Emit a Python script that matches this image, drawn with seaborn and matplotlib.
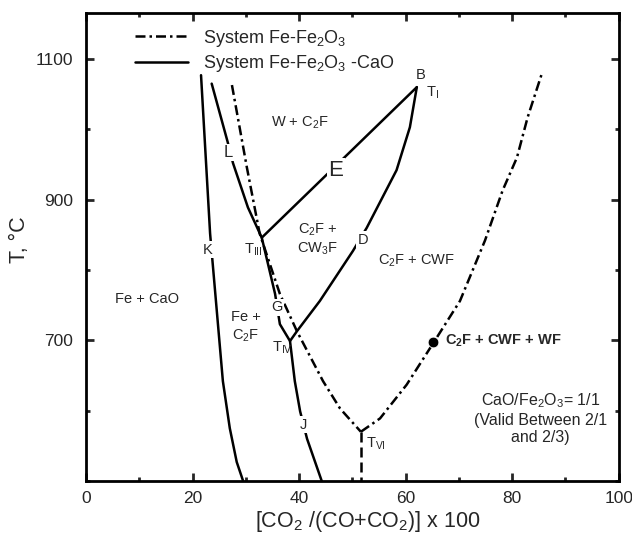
import pandas as pd
import matplotlib.pyplot as plt
import seaborn as sns
from matplotlib.lines import Line2D
from matplotlib.ticker import MultipleLocator

# System Fe-Fe2O3 (dash-dot), left branch down to T_VI, right branch up from T_VI
fe_left_x = [27.4, 30.2, 32.6, 36.4, 39.6, 44.5, 47.7, 51.6]
fe_left_y = [1063, 946, 852, 766, 713, 642, 603, 570]
fe_right_x = [51.6, 55.2, 60.2, 65.1, 70.2, 74.9, 78.2, 80.9, 82.9, 85.6]
fe_right_y = [570, 589, 637, 695, 756, 842, 913, 960, 1017, 1080]
fe_vert_x = [51.6, 51.6]
fe_vert_y = [570, 500]

# System Fe-Fe2O3-CaO (solid)
k_x = [21.6, 23.3, 25.7, 27.0, 28.3, 29.5]
k_y = [1077, 852, 642, 575, 527, 500]
l_x = [23.6, 26.6, 27.6, 30.4, 33.0, 35.5, 36.4, 38.3, 39.2, 40.2, 41.5, 44.3]
l_y = [1065, 982, 952, 889, 846, 766, 723, 699, 642, 599, 560, 499]
e_x = [33.0, 62.1]
e_y = [846, 1060]
d_x = [62.1, 60.8, 58.3, 52.7, 50.1, 43.9, 39.6, 38.3]
d_y = [1060, 1003, 942, 860, 827, 756, 713, 699]

dot_x = [65.1]
dot_y = [697]

x_ticks = [0, 20, 40, 60, 80, 100]
y_ticks = [700, 900, 1100]

sns.set_theme(style="ticks")
plt.rcParams["font.family"] = ["Liberation Sans", "DejaVu Sans"]
plt.rcParams["mathtext.default"] = "regular"

fig = plt.figure(figsize=(6.32, 5.39), dpi=100)
ax = fig.add_axes([0.136, 0.1076, 0.843, 0.8677])

dashdot = (0, (4, 1.6, 1, 1.6))
lw = 1.8


def curve(xs, ys, ls):
    df = pd.DataFrame({"x": xs, "y": ys})
    sns.lineplot(data=df, x="x", y="y", sort=False, estimator=None,
                 color="black", linewidth=lw, linestyle=ls, ax=ax)


curve(fe_left_x, fe_left_y, dashdot)
curve(fe_right_x, fe_right_y, dashdot)
curve(fe_vert_x, fe_vert_y, (0, (4, 2)))
curve(k_x, k_y, "-")
curve(l_x, l_y, "-")
curve(e_x, e_y, "-")
curve(d_x, d_y, "-")

sns.scatterplot(x=dot_x, y=dot_y, color="black", s=60, zorder=5, ax=ax)

ax.set_xlim(0, 100)
ax.set_ylim(500, 1165)
ax.set_xticks(x_ticks)
ax.set_yticks(y_ticks)
ax.xaxis.set_minor_locator(MultipleLocator(10))
ax.yaxis.set_minor_locator(MultipleLocator(100))
ax.tick_params(which="both", direction="in", top=True, right=True,
               labelsize=12.5, width=2, pad=7)
ax.tick_params(axis="y", pad=9)
ax.tick_params(which="major", length=6)
ax.tick_params(which="minor", length=3)
for s in ax.spines.values():
    s.set_linewidth(2)
    s.set_color("black")

ax.set_xlabel(r"[CO$_2$ /(CO+CO$_2$)] x 100", fontsize=15.5, labelpad=2)
ax.set_ylabel("T, °C", fontsize=15.5, labelpad=4)
ax.xaxis.label.set_x(0.53)
ax.yaxis.label.set_y(0.515)

gap = dict(facecolor="white", edgecolor="none", pad=1.0)
fs = 10.5
txt = dict(ha="center", va="center", fontsize=fs, zorder=6)
ax.text(62.8, 1077, "B", **txt)
ax.text(65.0, 1052, r"T$_{I}$", **txt)
ax.text(40.2, 1009, r"W + C$_2$F", **txt)
ax.text(46.9, 942, "E", ha="center", va="center", fontsize=16, zorder=6, bbox=gap)
ax.text(26.7, 967, "L", ha="center", va="center", fontsize=12, zorder=6, bbox=gap)
ax.text(43.5, 844, "C$_2$F +\nCW$_3$F", ha="center", va="center",
        fontsize=fs, linespacing=1.2, zorder=6)
ax.text(52.0, 843, "D", bbox=gap, **txt)
ax.text(31.4, 829, r"T$_{III}$", **txt)
ax.text(22.9, 829, "K", bbox=gap, **txt)
ax.text(62.0, 813, "C$_2$F + CWF", **txt)
ax.text(11.4, 759, "Fe + CaO", **txt)
ax.text(30.0, 719, "Fe +\nC$_2$F", ha="center", va="center",
        fontsize=fs, linespacing=1.3, zorder=6)
ax.text(35.8, 747, "G", bbox=gap, **txt)
ax.text(36.9, 690, r"T$_{IV}$", **txt)
ax.text(67.4, 700, "C$_2$F + CWF + WF", ha="left", va="center",
        fontsize=fs, fontweight="bold", zorder=6)
ax.text(85.3, 589, "CaO/Fe$_2$O$_3$= 1/1\n(Valid Between 2/1\nand 2/3)",
        ha="center", va="center", fontsize=11.5, linespacing=1.2, zorder=6)
ax.text(40.9, 580, "J", bbox=gap, **txt)
ax.text(54.5, 553, r"T$_{VI}$", **txt)

handles = [
    Line2D([], [], color="black", lw=lw, ls=dashdot),
    Line2D([], [], color="black", lw=lw, ls="-"),
]
ax.legend(handles, ["System Fe-Fe$_2$O$_3$", "System Fe-Fe$_2$O$_3$ -CaO"],
          loc="upper left", bbox_to_anchor=(0.079, 0.985), borderaxespad=0,
          frameon=False, fontsize=13, handlelength=2.9, handletextpad=0.85,
          labelspacing=0.25)

fig.savefig("out.png", dpi=100)
